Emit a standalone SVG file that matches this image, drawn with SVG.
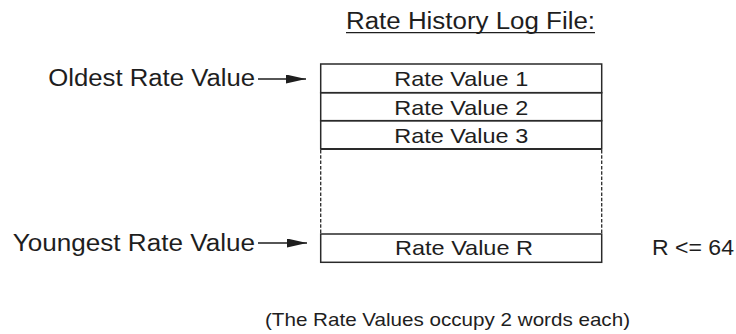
<svg xmlns="http://www.w3.org/2000/svg" width="736" height="334" viewBox="0 0 736 334">
<defs>
<style>
text{font-family:"Liberation Sans",Arial,Helvetica,sans-serif;fill:#1e1e1e;}
.lbl{font-size:23.5px;}
.cell{font-size:21px;text-anchor:middle;}
.box{fill:none;stroke:#2a2a2a;stroke-width:1.5;}
.sep{stroke:#2a2a2a;stroke-width:1.8;}
.dash{stroke:#2a2a2a;stroke-width:1.3;stroke-dasharray:3.5 1.8;}
.conn{stroke:#1e1e1e;stroke-width:1.5;fill:none;}
</style>
<marker id="ah" viewBox="0 0 20 9" refX="20" refY="4.5" markerWidth="20" markerHeight="9" markerUnits="userSpaceOnUse" orient="auto">
<path d="M0,0 L20,4.5 L0,9 Z" fill="#1e1e1e"/>
</marker>
</defs>
<rect width="736" height="334" fill="#fff"/>
<g id="title">
<text x="346" y="29.3" font-size="23" textLength="249" lengthAdjust="spacingAndGlyphs">Rate History Log File:</text>
<line x1="346" y1="32.7" x2="595" y2="32.7" stroke="#1e1e1e" stroke-width="1.3"/>
</g>
<g id="log-file">
<g id="row-1">
<rect class="box" x="320.7" y="64" width="281" height="28.7"/>
<text class="cell" x="461.2" y="86" textLength="134" lengthAdjust="spacingAndGlyphs">Rate Value 1</text>
</g>
<g id="row-2">
<rect class="box" x="320.7" y="92.7" width="281" height="28"/>
<text class="cell" x="461.2" y="114.5" textLength="134" lengthAdjust="spacingAndGlyphs">Rate Value 2</text>
</g>
<g id="row-3">
<rect class="box" x="320.7" y="120.7" width="281" height="28.3"/>
<text class="cell" x="461.2" y="142.6" textLength="134" lengthAdjust="spacingAndGlyphs">Rate Value 3</text>
</g>
<g id="gap">
<line class="sep" x1="320.7" y1="149" x2="601.7" y2="149"/>
<line class="dash" x1="320.7" y1="150" x2="320.7" y2="234"/>
<line class="dash" x1="601.7" y1="150" x2="601.7" y2="234"/>
</g>
<g id="row-r">
<rect class="box" x="320.7" y="234" width="281" height="28.3"/>
<text class="cell" x="464" y="255" textLength="138" lengthAdjust="spacingAndGlyphs">Rate Value R</text>
</g>
</g>
<g id="oldest-label">
<text class="lbl" x="48.3" y="85.5" textLength="206.7" lengthAdjust="spacingAndGlyphs">Oldest Rate Value</text>
</g>
<g id="youngest-label">
<text class="lbl" x="12.7" y="250.5" textLength="242.3" lengthAdjust="spacingAndGlyphs">Youngest Rate Value</text>
</g>
<g id="limit-label">
<text x="652" y="254.5" font-size="22" textLength="82" lengthAdjust="spacingAndGlyphs">R &lt;= 64</text>
</g>
<g id="note">
<text x="265" y="326" font-size="18.6" textLength="365" lengthAdjust="spacingAndGlyphs">(The Rate Values occupy 2 words each)</text>
</g>
<g id="connectors">
<line class="conn" x1="258" y1="79" x2="306" y2="79" marker-end="url(#ah)"/>
<line class="conn" x1="258" y1="243" x2="307" y2="243" marker-end="url(#ah)"/>
</g>
</svg>
